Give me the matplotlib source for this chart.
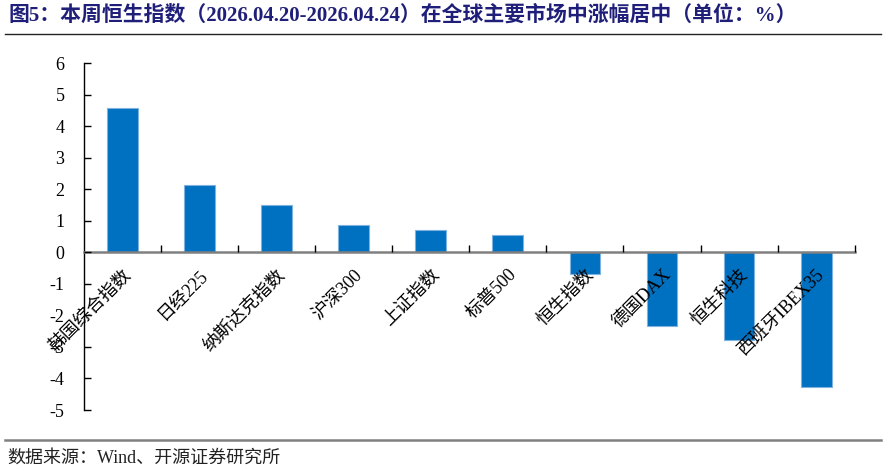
import matplotlib.pyplot as plt
import matplotlib.lines as mlines

plt.rcParams['font.family'] = ['Liberation Serif', 'Noto Sans CJK SC']

categories = ["韩国综合指数", "日经225", "纳斯达克指数", "沪深300", "上证指数",
              "标普500", "恒生指数", "德国DAX", "恒生科技", "西班牙IBEX35"]
changes = [4.58, 2.14, 1.50, 0.86, 0.70, 0.55, -0.69, -2.33, -2.77, -4.28]
yticks = list(range(-5, 7))

title = "图5：本周恒生指数（2026.04.20-2026.04.24）在全球主要市场中涨幅居中（单位：%）"
source = "数据来源：Wind、开源证券研究所"

fig = plt.figure(figsize=(8.94, 4.71), dpi=100)
ax = fig.add_axes([0.094, 0.1295, 0.862, 0.7365])

x = list(range(len(categories)))
ax.bar(x, changes, width=0.4, color="#0070C0", edgecolor="#7FB2E0", linewidth=0.8, zorder=1)
ax.set_axisbelow(False)

ax.set_xlim(-0.5, len(categories) - 0.5)
ax.set_ylim(-5, 6)
ax.set_yticks(yticks)
ax.set_yticklabels([str(v) for v in yticks], fontsize=13)
ax.tick_params(axis="y", direction="in", length=5, width=1, pad=14)

# x axis sits on the zero line
ax.spines["bottom"].set_position(("data", 0))
ax.spines["bottom"].set_color("#808080")
ax.spines["bottom"].set_linewidth(1.8)
ax.spines["top"].set_visible(False)
ax.spines["right"].set_visible(False)
ax.spines["left"].set_linewidth(1)

ax.set_xticks(x)
ax.set_xticklabels(categories, rotation=45, ha="right", rotation_mode="anchor", fontsize=13)
ax.tick_params(axis="x", which="major", length=0, pad=10)
ax.set_xticks([i + 0.5 for i in x], minor=True)
ax.tick_params(axis="x", which="minor", direction="in", length=5, width=1, color="black")

fig.text(0.009, 0.967, title, fontsize=15, fontweight="bold", color="#1F1F7A",
         va="center", ha="left")
fig.add_artist(mlines.Line2D([0.006, 0.985], [0.928, 0.928], color="#222222", lw=1))
fig.add_artist(mlines.Line2D([0.006, 0.985], [0.066, 0.066], color="#808080", lw=1.8))
fig.text(0.008, 0.028, source, fontsize=13, color="#222222", va="center", ha="left")

fig.savefig("out.png", dpi=100)
